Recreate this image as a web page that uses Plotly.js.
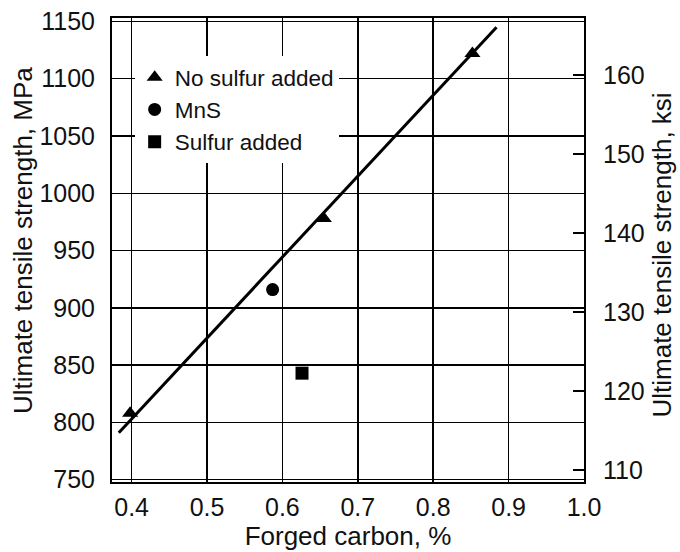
<!DOCTYPE html>
<html>
<head>
<meta charset="utf-8">
<script src="https://cdn.plot.ly/plotly-3.0.1.min.js"></script>
<style>html,body{margin:0;padding:0;background:#fff;}#chart{width:680px;height:552px;}</style>
</head>
<body>
<div id="chart"></div>
<script>
// Data
const noSulfurX = [0.398, 0.655, 0.852];
const noSulfurY = [808, 978, 1122];
const mnsX = [0.587];
const mnsY = [916];
const sulfurX = [0.626];
const sulfurY = [843];
const fitX = [0.383, 0.884];
const fitY = [791, 1145];
const xTicks = [0.4, 0.5, 0.6, 0.7, 0.8, 0.9, 1.0];
const xTickText = ['0.4', '0.5', '0.6', '0.7', '0.8', '0.9', '1.0'];
const mpaTicks = [750, 800, 850, 900, 950, 1000, 1050, 1100, 1150];
const ksiTicks = [110, 120, 130, 140, 150, 160];
const MPA_PER_KSI = 6.895;
const mpaRange = [748, 1153];
const xRange = [0.374, 1.0];

const FONT = 'Liberation Sans, Arial, Helvetica, sans-serif';
const TICK = {family: FONT, size: 25, color: '#111'};
const TITLE = {family: FONT, size: 26, color: '#111'};

const traces = [
  {x: fitX, y: fitY, mode: 'lines', line: {color: '#000', width: 3}, showlegend: false, hoverinfo: 'skip'},
  {x: noSulfurX, y: noSulfurY, mode: 'markers', name: 'No sulfur added',
   marker: {symbol: 'triangle-up', size: 14, color: '#000'}},
  {x: mnsX, y: mnsY, mode: 'markers', name: 'MnS',
   marker: {symbol: 'circle', size: 13, color: '#000'}},
  {x: sulfurX, y: sulfurY, mode: 'markers', name: 'Sulfur added',
   marker: {symbol: 'square', size: 13, color: '#000'}},
  {x: noSulfurX, y: noSulfurY.map(v => v / MPA_PER_KSI), yaxis: 'y2', mode: 'markers',
   marker: {opacity: 0}, showlegend: false, hoverinfo: 'skip'}
];

const layout = {
  width: 680, height: 552,
  margin: {l: 112, r: 96, t: 18, b: 70},
  paper_bgcolor: '#fff', plot_bgcolor: '#fff',
  font: {family: FONT, size: 23, color: '#111'},
  showlegend: true,
  legend: {x: 0.048, y: 0.918, xanchor: 'left', yanchor: 'top', bgcolor: '#fff',
           font: {family: FONT, size: 22.5, color: '#111'}, tracegroupgap: 0},
  xaxis: {
    range: xRange, tickvals: xTicks, ticktext: xTickText, tickfont: TICK,
    showgrid: true, gridcolor: '#000', gridwidth: 1.5,
    showline: true, linecolor: '#000', linewidth: 2, mirror: true,
    ticks: '', zeroline: false, ticklabelstandoff: 2,
    title: {text: 'Forged carbon, %', font: TITLE, standoff: 2}
  },
  yaxis: {
    range: mpaRange, tickvals: mpaTicks, tickfont: TICK,
    showgrid: true, gridcolor: '#000', gridwidth: 1.5,
    showline: true, linecolor: '#000', linewidth: 2,
    ticks: '', zeroline: false, ticklabelstandoff: 10
  },
  yaxis2: {
    overlaying: 'y', side: 'right',
    range: mpaRange.map(v => v / MPA_PER_KSI), tickvals: ksiTicks, tickfont: TICK,
    showgrid: false, showline: true, linecolor: '#000', linewidth: 2,
    ticks: 'inside', ticklen: 11, tickwidth: 2, tickcolor: '#000', zeroline: false,
    ticklabelstandoff: 12
  },
  annotations: [
    {text: 'Ultimate tensile strength, MPa', xref: 'paper', yref: 'paper',
     x: -0.19, y: 0.52, xanchor: 'center', yanchor: 'middle', textangle: -90, showarrow: false,
     font: TITLE},
    {text: 'Ultimate tensile strength, ksi', xref: 'paper', yref: 'paper',
     x: 1.165, y: 0.49, xanchor: 'center', yanchor: 'middle', textangle: -90, showarrow: false,
     font: TITLE}
  ]
};

Plotly.newPlot('chart', traces, layout, {displayModeBar: false, staticPlot: true});
</script>
</body>
</html>
